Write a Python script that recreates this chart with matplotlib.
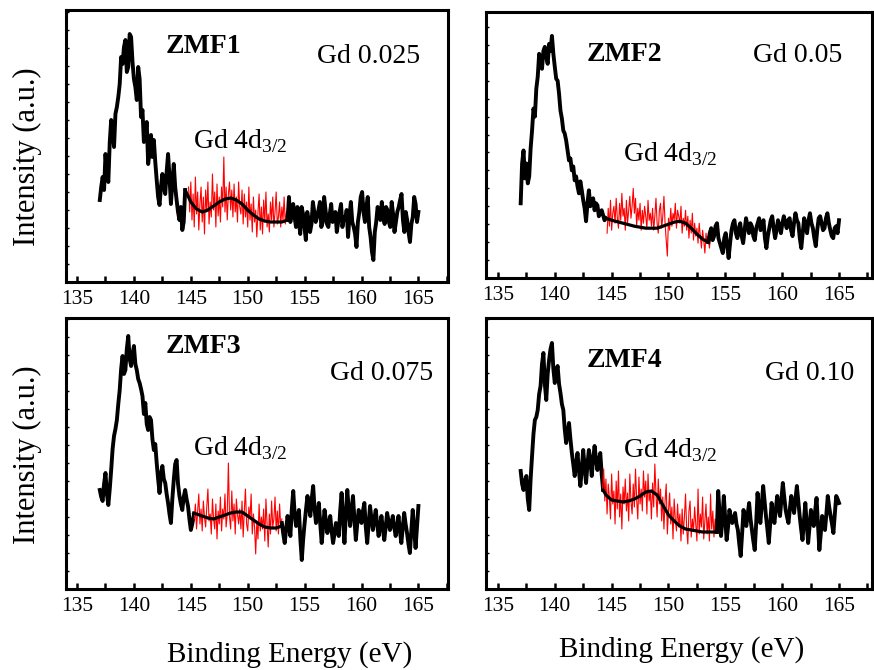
import numpy as np
import matplotlib
matplotlib.use("Agg")
import matplotlib.pyplot as plt
from matplotlib.ticker import MultipleLocator

plt.rcParams['font.family'] = ['Liberation Serif', 'DejaVu Serif']
plt.rcParams['mathtext.fontset'] = 'custom'
plt.rcParams['mathtext.rm'] = 'Liberation Serif'

# ---------------- data (intensity in arbitrary units) ----------------
sample_names = ["ZMF1", "ZMF2", "ZMF3", "ZMF4"]
gd_labels = ["Gd 0.025", "Gd 0.05", "Gd 0.075", "Gd 0.10"]
peak_label = "Gd 4d$_{3/2}$"
x_ticks = [135, 140, 145, 150, 155, 160, 165]

# Panel 1 (ZMF1)
p1_low_range = (137.0, 144.5)
p1_low = [82, 95, 105, 92, 128, 110, 100, 140, 162, 150,
          135, 168, 175, 185, 198, 225, 218, 235, 242, 210,
          215, 248, 245, 220, 203, 195, 182, 215, 203, 165,
          172, 140, 148, 160, 118, 130, 147, 125, 142, 120,
          102, 85, 77, 95, 108, 95, 88, 110, 128, 105,
          78, 100, 118, 95, 82, 70, 62, 75, 52, 60, 92]
p1_red_range = (144.8, 153.4)
p1_red = [95, 70, 100, 62, 88, 55, 105, 68, 90, 52,
          78, 95, 60, 85, 48, 92, 70, 100, 58, 80,
          65, 108, 72, 90, 55, 98, 66, 85, 60, 95,
          75, 125, 70, 95, 62, 88, 100, 72, 92, 65,
          98, 70, 85, 60, 100, 75, 68, 92, 58, 88,
          65, 80, 55, 95, 62, 78, 50, 85, 60, 72,
          45, 70, 88, 52, 75, 48, 82, 60, 90, 55,
          68, 50, 80, 62, 85, 55, 70, 90, 58, 65,
          80, 55, 75, 62, 85, 58, 70]
p1_fit_x = [144.5, 145, 145.5, 146, 146.5, 147, 147.5, 148, 148.5, 149, 149.5, 150,
            150.5, 151, 151.5, 152, 152.5, 153, 153.5]
p1_fit_y = [92, 80, 73, 70, 72, 76, 80, 83, 84, 82, 78, 72, 67, 63, 61, 60, 60, 60, 62]
p1_high_range = (153.5, 165.0)
p1_high = [62, 85, 60, 70, 78, 65, 55, 75, 62, 48,
           75, 68, 55, 42, 70, 62, 50, 58, 80, 70,
           60, 65, 72, 80, 55, 60, 85, 72, 58, 55,
           68, 78, 60, 62, 70, 50, 60, 70, 78, 55,
           65, 62, 72, 45, 65, 80, 60, 55, 48, 35,
           60, 70, 85, 90, 70, 60, 75, 85, 55, 45,
           30, 22, 50, 60, 75, 70, 62, 80, 65, 58,
           75, 72, 60, 55, 80, 68, 50, 60, 70, 75,
           82, 88, 62, 50, 70, 62, 50, 40, 58, 65,
           85, 78, 60, 70]

# Panel 2 (ZMF2)
p2_low_range = (137.0, 144.5)
p2_low = [75, 115, 128, 100, 115, 95, 102, 130, 148, 170,
          162, 190, 202, 225, 218, 210, 228, 232, 222, 215,
          235, 228, 243, 225, 212, 200, 198, 185, 168, 160,
          148, 145, 138, 128, 118, 120, 108, 112, 98, 102,
          92, 85, 97, 88, 78, 70, 57, 75, 88, 72,
          78, 80, 68, 75, 73, 62, 65, 68, 63, 58, 60]
p2_red_range = (144.6, 153.7)
p2_red = [45, 70, 52, 78, 48, 65, 72, 55, 80, 60,
          50, 75, 58, 85, 62, 70, 48, 78, 55, 68,
          82, 60, 72, 90, 65, 80, 52, 70, 58, 75,
          48, 68, 55, 72, 62, 50, 78, 58, 65, 52,
          70, 48, 62, 80, 55, 45, 68, 75, 50, 62,
          82, 55, 38, 22, 60, 48, 70, 52, 65, 58,
          75, 50, 68, 62, 55, 72, 45, 60, 52, 68,
          48, 62, 40, 58, 45, 65, 38, 55, 42, 50,
          35, 55, 42, 30, 48, 38, 25, 45, 35, 42, 30, 40]
p2_fit_x = [144.5, 145, 146, 147, 148, 149, 150, 150.5, 151, 151.5, 152, 152.5, 153, 153.5]
p2_fit_y = [60, 58, 55, 52, 50, 50, 54, 56, 57, 55, 50, 44, 39, 36]
p2_high_range = (153.5, 165.0)
p2_high = [36, 45, 50, 38, 42, 52, 55, 40, 35, 30,
           25, 40, 45, 32, 20, 35, 48, 55, 58, 45,
           40, 50, 55, 42, 35, 48, 60, 52, 45, 55,
           52, 42, 38, 50, 55, 60, 48, 52, 58, 40,
           30, 42, 50, 58, 62, 50, 40, 48, 58, 52,
           45, 55, 62, 55, 50, 58, 60, 48, 42, 55,
           65, 58, 55, 40, 30, 45, 60, 52, 45, 58,
           65, 55, 50, 40, 32, 48, 60, 62, 55, 48,
           50, 60, 65, 55, 48, 42, 40, 50, 52, 45, 58]

# Panel 3 (ZMF3)
p3_low_range = (137.0, 145.25)
p3_low = [99, 92, 88, 105, 116, 95, 84, 100, 119, 140,
          153, 160, 169, 185, 199, 220, 233, 215, 219, 240,
          253, 230, 223, 235, 243, 225, 219, 210, 206, 200,
          193, 175, 186, 165, 159, 172, 169, 150, 139, 145,
          126, 110, 96, 115, 123, 110, 106, 95, 86, 75,
          66, 90, 109, 125, 129, 105, 93, 85, 79, 92,
          99, 90, 83, 70, 59, 65, 73]
p3_red_range = (145.3, 153.0)
p3_red = [70, 85, 60, 78, 95, 65, 80, 58, 88, 72,
          62, 82, 100, 68, 75, 55, 90, 70, 60, 85,
          50, 78, 65, 92, 58, 80, 70, 95, 62, 75,
          126, 72, 60, 98, 68, 85, 55, 90, 75, 65,
          80, 60, 88, 52, 78, 100, 65, 58, 82, 70,
          95, 55, 75, 62, 35, 68, 50, 85, 58, 72,
          60, 80, 48, 90, 65, 42, 75, 55, 88, 62,
          70, 92, 58, 78, 55, 85, 62, 70]
p3_fit_x = [145.25, 146, 146.5, 147, 147.5, 148, 148.5, 149, 149.5, 150, 150.5, 151,
            151.5, 152, 152.5, 153]
p3_fit_y = [76, 73, 71, 70, 72, 74, 76, 77, 77, 73, 69, 65, 62, 61, 61, 63]
p3_high_range = (153.0, 165.0)
p3_high = [66, 55, 46, 60, 73, 62, 53, 80, 98, 75,
           63, 72, 79, 50, 29, 50, 66, 80, 93, 82,
           73, 90, 103, 80, 66, 75, 86, 65, 46, 62,
           79, 68, 56, 65, 73, 58, 46, 55, 66, 60,
           53, 78, 96, 70, 46, 75, 99, 80, 63, 78,
           93, 70, 49, 65, 79, 72, 66, 78, 86, 62,
           46, 65, 83, 70, 59, 70, 79, 65, 53, 62,
           73, 60, 49, 62, 76, 68, 59, 65, 73, 62,
           53, 62, 73, 58, 46, 62, 76, 65, 56, 45,
           36, 58, 79, 60, 41, 62, 83]

# Panel 4 (ZMF4)
p4_low_range = (137.0, 144.25)
p4_low = [118, 105, 99, 108, 113, 90, 79, 110, 133, 155,
          169, 172, 179, 195, 203, 225, 236, 205, 189, 215,
          229, 240, 246, 220, 206, 218, 223, 205, 196, 185,
          179, 160, 146, 155, 166, 150, 136, 125, 113, 125,
          136, 118, 103, 120, 139, 122, 106, 125, 139, 128,
          113, 130, 143, 130, 119, 128, 136, 115, 99]
p4_red_range = (144.2, 154.2)
p4_red = [100, 120, 88, 110, 75, 105, 92, 70, 115, 85,
          98, 65, 108, 80, 118, 72, 95, 60, 102, 85,
          110, 78, 96, 68, 115, 88, 75, 105, 82, 120,
          90, 70, 112, 85, 100, 78, 118, 92, 108, 75,
          115, 88, 98, 70, 106, 82, 125, 95, 72, 110,
          85, 100, 68, 92, 60, 88, 105, 55, 78, 96,
          65, 82, 50, 90, 70, 58, 85, 62, 75, 48,
          80, 55, 72, 95, 60, 45, 78, 88, 52, 70,
          58, 82, 65, 48, 100, 55, 75, 62, 92, 50,
          68, 85, 55, 72, 48, 95, 60, 78, 52, 70, 62]
p4_fit_x = [144.25, 144.5, 145, 145.5, 146, 146.5, 147, 147.5, 148, 148.5, 149, 149.5,
            150, 150.5, 151, 151.5, 152, 153, 154, 154.25]
p4_fit_y = [99, 94, 89, 88, 87, 88, 90, 93, 97, 98, 94, 84, 74, 68, 63, 60, 59, 57, 57, 57]
p4_high_range = (154.25, 165.0)
p4_high = [57, 98, 75, 53, 70, 93, 70, 49, 62, 79,
           72, 66, 70, 76, 65, 59, 45, 33, 55, 79,
           70, 63, 75, 86, 70, 59, 48, 39, 65, 96,
           80, 66, 85, 103, 88, 73, 60, 46, 65, 86,
           75, 66, 80, 93, 82, 73, 90, 106, 92, 79,
           72, 66, 80, 93, 85, 76, 90, 103, 88, 73,
           60, 49, 68, 86, 65, 46, 62, 79, 70, 63,
           78, 91, 65, 39, 55, 73, 65, 59, 75, 93,
           82, 73, 65, 56, 75, 93, 90, 86]

panels = [
    (p1_low_range, p1_low, p1_red_range, p1_red, p1_fit_x, p1_fit_y, p1_high_range, p1_high),
    (p2_low_range, p2_low, p2_red_range, p2_red, p2_fit_x, p2_fit_y, p2_high_range, p2_high),
    (p3_low_range, p3_low, p3_red_range, p3_red, p3_fit_x, p3_fit_y, p3_high_range, p3_high),
    (p4_low_range, p4_low, p4_red_range, p4_red, p4_fit_x, p4_fit_y, p4_high_range, p4_high),
]

# ---------------- layout ----------------
W, H = 874, 670
fig = plt.figure(figsize=(W / 100, H / 100), dpi=100)

# pixel boxes: left, top, right, bottom
boxes = [(66, 10, 448, 282), (486, 12, 872, 278), (66, 318, 448, 589), (486, 318, 872, 589)]
xlims = [(134.03, 167.6), (133.95, 167.9), (134.03, 167.6), (133.95, 167.9)]
ylims = [(0, 272), (0, 267), (0, 271), (0, 271)]
name_pos = [(0.359, 0.842), (0.358, 0.816), (0.359, 0.871), (0.358, 0.819)]
gd_pos = [(0.657, 0.805), (0.692, 0.812), (0.691, 0.771), (0.723, 0.771)]
peak_pos = [(0.332, 0.493), (0.355, 0.44), (0.332, 0.494), (0.355, 0.487)]

for i, (box, pdata) in enumerate(zip(boxes, panels)):
    l, t, r, b = box
    ax = fig.add_axes([l / W, 1 - b / H, (r - l) / W, (b - t) / H])
    lo_rng, lo, red_rng, red, fx, fy, hi_rng, hi = pdata
    ax.plot(np.linspace(lo_rng[0], lo_rng[1], len(lo)), lo, color='black', lw=2.8)
    ax.plot(np.linspace(red_rng[0], red_rng[1], len(red)), red, color='#ff0000', lw=0.8)
    ax.plot(fx, fy, color='black', lw=2.3)
    ax.plot(np.linspace(hi_rng[0], hi_rng[1], len(hi)), hi, color='black', lw=2.8)
    ax.set_xlim(*xlims[i])
    ax.set_ylim(*ylims[i])
    ax.set_xticks(x_ticks)
    ax.xaxis.set_minor_locator(MultipleLocator(2.5))
    ax.yaxis.set_major_locator(MultipleLocator(18))
    ax.tick_params(axis='x', which='both', direction='in', length=4, width=1.8,
                   labelsize=15.5, pad=6, top=False)
    ax.tick_params(axis='y', which='both', direction='in', length=2.5, width=1,
                   labelleft=False, right=False)
    for sp in ax.spines.values():
        sp.set_linewidth(2.2)
    ax.text(*name_pos[i], sample_names[i], transform=ax.transAxes, fontsize=20,
            fontweight='bold', ha='center', va='baseline')
    ax.text(*gd_pos[i], gd_labels[i], transform=ax.transAxes, fontsize=20,
            ha='left', va='baseline')
    ax.text(*peak_pos[i], peak_label, transform=ax.transAxes, fontsize=20,
            ha='left', va='baseline')

fig.text(27 / W, 1 - 157 / H, "Intensity (a.u.)", rotation=90, fontsize=22,
         ha='center', va='center')
fig.text(27 / W, 1 - 455 / H, "Intensity (a.u.)", rotation=90, fontsize=22,
         ha='center', va='center')
fig.text(290 / W, 1 - 662 / H, "Binding Energy (eV)", fontsize=21, ha='center', va='baseline')
fig.text(682 / W, 1 - 657 / H, "Binding Energy (eV)", fontsize=21, ha='center', va='baseline')

fig.savefig("out.png", dpi=100)
